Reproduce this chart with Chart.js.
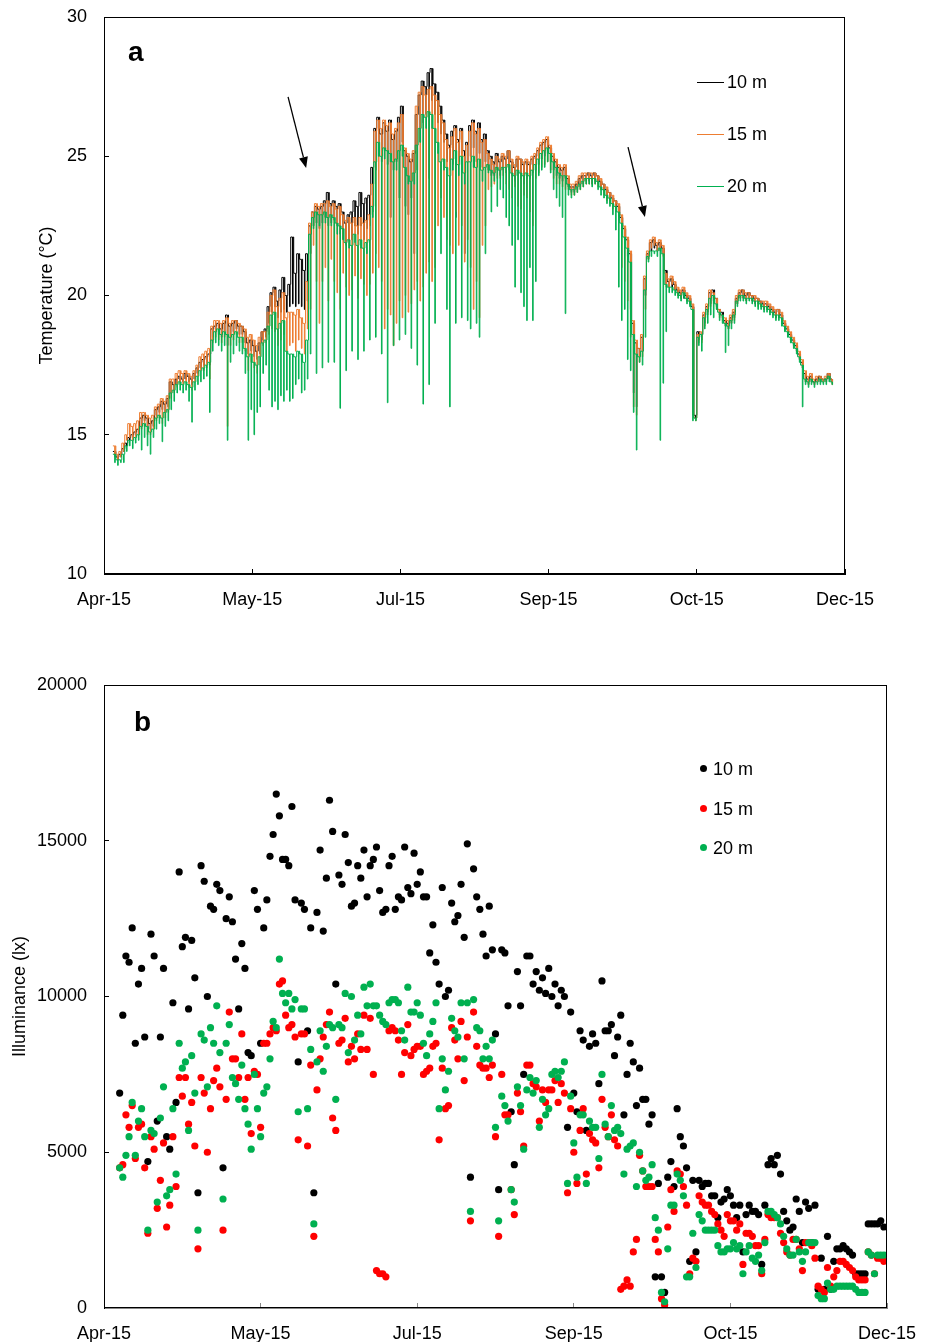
<!DOCTYPE html>
<html>
<head>
<meta charset="utf-8">
<script src="https://cdn.jsdelivr.net/npm/chart.js@4.4.1/dist/chart.umd.min.js"></script>
<style>
  body { margin: 0; background: #fff; }
  #wrap { position: relative; width: 932px; height: 1342px; background: #fff; font-family: "Liberation Sans", Arial, sans-serif; color: #000; }
  canvas { position: absolute; left: 0; }
  .tag { position: absolute; font-weight: bold; font-size: 28px; line-height: 28px; }
  .leg { position: absolute; font-size: 18px; line-height: 20px; white-space: nowrap; }
  .sw { position: absolute; height: 1px; width: 27px; }
  .dot { position: absolute; width: 7px; height: 7px; border-radius: 50%; }
</style>
</head>
<body>
<div id="wrap">
  <canvas id="chartA" width="932" height="625" style="top:0"></canvas>
  <canvas id="chartB" width="932" height="702" style="top:640px"></canvas>

  <div class="tag" style="left:128px;top:38px">a</div>
  <div class="tag" style="left:134px;top:708px">b</div>

  <div class="sw" style="left:697px;top:82px;background:#000"></div>
  <div class="leg" style="left:727px;top:72px">10 m</div>
  <div class="sw" style="left:697px;top:134px;background:#ed7d31"></div>
  <div class="leg" style="left:727px;top:124px">15 m</div>
  <div class="sw" style="left:697px;top:186px;background:#00b050"></div>
  <div class="leg" style="left:727px;top:176px">20 m</div>

  <div class="dot" style="left:700px;top:765px;background:#000"></div>
  <div class="leg" style="left:713px;top:759px">10 m</div>
  <div class="dot" style="left:700px;top:805px;background:#ff0000"></div>
  <div class="leg" style="left:713px;top:799px">15 m</div>
  <div class="dot" style="left:700px;top:844px;background:#00b050"></div>
  <div class="leg" style="left:713px;top:838px">20 m</div>
</div>

<script>
// x axis: days from the axis start, labels every 50 days
const tickDays = [0, 50, 100, 150, 200, 250];
const monthLabels = ['Apr-15', 'May-15', 'Jul-15', 'Sep-15', 'Oct-15', 'Dec-15'];

// ---- panel a: daily top value and daily dip value, first day = 3 ----
const tempStartDay = 3;
const tempHi10 = [
  14.4, 14.2, 14.3, 14.5, 14.7, 14.9, 15.0, 15.1, 15.2, 15.6,
  15.7, 15.6, 15.4, 15.5, 15.9, 16.0, 16.2, 16.1, 16.3, 16.9,
  16.8, 17.0, 17.1, 17.0, 17.2, 17.1, 17.0, 17.2, 17.4, 17.6,
  17.7, 17.8, 17.9, 18.8, 18.9, 19.0, 18.8, 19.0, 19.3, 18.9,
  19.0, 19.1, 18.9, 18.9, 18.7, 18.3, 18.4, 18.2, 18.0, 18.3,
  18.7, 18.8, 19.6, 20.1, 20.3, 19.8, 20.2, 20.65, 20.0, 20.4,
  22.1, 20.8, 21.5, 21.3, 20.9, 21.5, 22.5, 23.0, 23.2, 23.1,
  23.2, 23.4, 23.7, 23.3, 23.4, 23.2, 23.3, 23.0, 22.6, 22.9,
  23.0, 23.4, 23.2, 23.7, 23.3, 23.5, 23.6, 24.6, 26.0, 26.4,
  25.8, 26.2, 25.9, 26.3, 25.6, 25.9, 26.4, 26.8, 25.2, 25.0,
  24.8, 25.1, 26.5, 27.2, 27.7, 27.5, 28.0, 28.15, 27.6, 27.3,
  26.8, 26.3, 25.8, 25.4, 25.9, 26.1, 25.6, 26.0, 25.2, 25.5,
  26.1, 26.3, 25.9, 26.2, 25.6, 25.8, 25.2, 25.0, 24.8, 25.1,
  24.8, 25.0, 24.9, 25.2, 24.8, 24.6, 24.9, 24.9, 24.7, 24.8,
  24.7, 24.9, 25.0, 25.2, 25.4, 25.5, 25.6, 25.3, 25.0, 24.8,
  24.6, 24.5, 24.6, 24.2, 23.9, 23.9, 24.0, 24.2, 24.3, 24.3,
  24.4, 24.3, 24.4, 24.3, 24.1, 24.0, 23.8, 23.7, 23.5, 23.4,
  23.2, 22.8, 22.4, 22.0, 21.5, 19.0, 18.3, 18.1, 18.5, 20.6,
  21.5, 21.9, 22.0, 21.8, 21.9, 21.7, 20.9, 20.5, 20.6, 20.4,
  20.2, 20.1, 20.2, 20.0, 19.9, 19.6, 15.7, 18.7, 18.6, 19.3,
  19.6, 20.1, 20.2, 19.9, 19.5, 19.4, 19.1, 19.0, 19.2, 19.4,
  19.9, 20.1, 20.2, 20.0, 20.1, 20.0, 19.9, 19.9, 19.8, 19.7,
  19.7, 19.6, 19.5, 19.4, 19.5, 19.3, 19.0, 18.8, 18.6, 18.4,
  18.2, 17.9, 17.6, 17.2, 17.0, 17.1, 16.9, 17.0, 17.1, 17.0, 17.0, 17.2, 17.0
];
const tempLo10 = [
  14.3, 14.1, 14.2, 14.4, 14.6, 14.8, 14.9, 15.0, 15.0, 15.3,
  15.5, 15.3, 15.2, 15.3, 15.7, 15.8, 15.9, 15.8, 16.0, 16.5,
  16.6, 16.8, 16.9, 16.9, 17.0, 16.9, 16.8, 17.0, 17.2, 17.4,
  17.5, 17.6, 17.5, 18.5, 18.7, 18.6, 18.5, 18.7, 18.2, 18.5,
  18.7, 18.8, 18.6, 18.6, 18.3, 17.9, 18.0, 17.8, 17.7, 17.9,
  18.4, 18.5, 19.0, 19.4, 19.6, 19.2, 19.4, 19.5, 19.4, 19.6,
  19.7, 19.6, 19.7, 19.6, 19.5, 19.8, 21.5, 22.5, 22.6, 22.4,
  22.6, 22.8, 22.5, 22.6, 22.7, 22.5, 22.2, 22.0, 21.8, 22.0,
  22.0, 22.5, 22.2, 22.5, 22.0, 22.4, 22.5, 23.0, 24.5, 25.0,
  24.8, 25.2, 24.7, 22.8, 24.5, 24.8, 23.5, 25.5, 23.2, 22.9,
  23.5, 21.5, 24.5, 25.5, 26.2, 26.5, 24.2, 27.0, 26.5, 26.2,
  25.8, 25.5, 24.8, 24.5, 24.7, 22.8, 24.8, 25.1, 21.5, 24.8,
  25.0, 25.3, 24.8, 25.1, 24.6, 24.8, 24.5, 24.3, 24.3, 24.5,
  24.3, 24.5, 24.4, 24.5, 24.3, 24.1, 24.3, 24.2, 24.0, 24.2,
  24.2, 24.4, 24.5, 24.7, 24.9, 25.0, 25.1, 24.8, 24.5, 24.3,
  24.2, 24.1, 24.2, 23.9, 23.7, 23.7, 23.8, 23.9, 24.0, 24.1,
  24.1, 24.0, 24.1, 24.0, 23.8, 23.7, 23.5, 23.4, 23.2, 23.1,
  22.9, 22.4, 22.0, 21.4, 19.5, 16.5, 16.0, 17.8, 18.0, 20.0,
  21.3, 21.6, 21.7, 21.6, 21.6, 21.5, 20.4, 20.3, 20.3, 20.2,
  20.0, 19.9, 19.9, 19.8, 19.7, 15.8, 15.6, 18.4, 18.4, 19.0,
  19.4, 19.7, 19.8, 19.6, 19.3, 19.2, 18.9, 18.8, 19.0, 19.2,
  19.7, 19.9, 19.9, 19.8, 19.9, 19.8, 19.7, 19.7, 19.6, 19.5,
  19.5, 19.4, 19.3, 19.2, 19.2, 19.0, 18.8, 18.6, 18.4, 18.2,
  18.0, 17.7, 17.4, 16.9, 16.8, 16.9, 16.8, 16.9, 16.9, 16.9, 16.9, 17.0, 16.9
];
const tempHi15 = [
  14.6, 14.3, 14.4, 14.7, 15.0, 15.4, 15.3, 15.4, 15.5, 15.8,
  15.8, 15.7, 15.6, 15.7, 16.0, 16.1, 16.3, 16.2, 16.4, 17.0,
  17.0, 17.2, 17.3, 17.2, 17.3, 17.2, 17.1, 17.3, 17.5, 17.8,
  17.9, 18.0, 18.1, 18.9, 19.1, 19.1, 19.0, 19.1, 19.2, 19.0,
  19.1, 19.1, 19.0, 18.9, 18.8, 18.5, 18.6, 18.4, 18.2, 18.5,
  18.7, 18.7, 19.4, 20.0, 20.2, 19.6, 19.9, 20.1, 19.2, 19.4,
  19.4, 19.3, 19.5, 19.2, 19.0, 20.5, 22.6, 23.0, 23.3, 23.2,
  23.3, 23.3, 23.4, 23.2, 23.3, 23.1, 23.2, 22.9, 22.7, 22.8,
  22.6, 22.8, 22.5, 22.8, 22.6, 22.7, 22.9, 24.0, 25.9, 26.3,
  26.0, 26.3, 26.1, 26.2, 25.8, 26.0, 26.2, 26.5, 25.3, 25.1,
  24.9, 25.2, 26.8, 27.3, 27.5, 27.2, 27.4, 27.5, 27.2, 27.0,
  26.5, 26.2, 25.6, 25.3, 25.7, 26.0, 25.5, 25.9, 25.0, 25.4,
  25.9, 26.2, 25.8, 26.0, 25.5, 25.6, 25.1, 24.9, 24.7, 25.0,
  24.9, 25.1, 25.0, 25.2, 24.9, 24.7, 25.0, 24.9, 24.8, 24.9,
  24.8, 25.0, 25.1, 25.3, 25.5, 25.6, 25.7, 25.4, 25.1, 24.9,
  24.7, 24.6, 24.7, 24.3, 24.0, 24.0, 24.1, 24.3, 24.4, 24.4,
  24.4, 24.4, 24.4, 24.3, 24.2, 24.0, 23.9, 23.7, 23.6, 23.4,
  23.3, 22.9, 22.5, 22.1, 21.6, 19.1, 18.4, 18.1, 18.6, 20.7,
  21.6, 22.0, 22.1, 21.9, 22.0, 21.8, 20.8, 20.6, 20.7, 20.5,
  20.3, 20.2, 20.3, 20.1, 20.0, 19.7, 15.6, 18.6, 18.7, 19.4,
  19.7, 20.2, 20.1, 19.9, 19.5, 19.3, 19.2, 19.1, 19.3, 19.5,
  20.0, 20.2, 20.2, 20.1, 20.1, 20.0, 20.0, 19.9, 19.8, 19.8,
  19.8, 19.7, 19.6, 19.5, 19.5, 19.4, 19.1, 18.9, 18.7, 18.5,
  18.3, 18.0, 17.7, 17.3, 17.1, 17.2, 17.0, 17.1, 17.1, 17.0, 17.1, 17.2, 17.0
];
const tempLo15 = [
  14.2, 14.1, 14.2, 14.4, 14.8, 14.9, 14.8, 14.9, 15.0, 15.2,
  15.3, 15.0, 15.0, 15.2, 15.5, 15.6, 15.4, 15.6, 15.8, 16.3,
  16.5, 16.7, 16.8, 16.8, 16.9, 16.7, 16.6, 16.9, 17.1, 17.3,
  17.3, 17.4, 17.0, 18.3, 18.5, 18.4, 18.3, 18.5, 15.3, 18.2,
  18.4, 18.6, 18.3, 18.3, 18.0, 17.3, 17.6, 17.4, 17.2, 17.5,
  18.2, 18.3, 18.6, 18.8, 18.7, 18.2, 18.4, 18.6, 18.0, 18.2,
  18.3, 18.0, 18.4, 18.1, 17.9, 18.8, 19.5, 21.8, 20.5, 19.0,
  20.5, 21.0, 19.8, 21.3, 20.5, 20.1, 19.5, 20.8, 20.3, 20.0,
  20.2, 20.7, 19.9, 20.6, 20.4, 20.0, 20.4, 20.8, 21.5, 21.0,
  20.5, 18.8, 19.5, 19.3, 18.2, 19.0, 19.8, 19.2, 20.0, 19.4,
  19.7, 20.2, 20.5, 19.8, 20.3, 20.8, 21.2, 20.5, 21.0, 22.5,
  23.5, 22.8, 22.0, 21.8, 21.5, 23.0, 21.8, 22.5, 21.2, 22.0,
  21.0, 19.5, 20.5, 19.2, 21.8, 22.5, 23.8, 23.9, 24.0, 24.2,
  24.2, 24.3, 24.0, 23.8, 23.5, 23.9, 23.2, 23.1, 23.6, 23.5,
  23.0, 22.5, 24.2, 24.4, 24.6, 24.7, 24.8, 24.5, 24.2, 24.0,
  24.0, 23.9, 23.8, 23.8, 23.6, 23.6, 23.7, 23.8, 23.9, 24.0,
  24.0, 24.0, 24.0, 23.9, 23.8, 23.6, 23.4, 23.3, 23.1, 23.0,
  22.7, 21.0, 20.5, 19.8, 18.5, 16.0, 15.7, 17.6, 17.8, 19.5,
  21.3, 21.7, 21.8, 21.6, 21.7, 21.4, 20.3, 20.3, 20.4, 20.2,
  20.0, 19.9, 20.0, 19.8, 19.7, 15.7, 15.5, 18.3, 18.3, 18.9,
  19.3, 19.6, 19.7, 19.5, 19.2, 19.1, 18.9, 18.8, 19.0, 19.1,
  19.7, 19.9, 19.9, 19.8, 19.9, 19.8, 19.7, 19.6, 19.6, 19.5,
  19.5, 19.4, 19.3, 19.2, 19.2, 19.0, 18.8, 18.6, 18.4, 18.2,
  18.0, 17.7, 17.4, 16.9, 16.8, 16.9, 16.8, 16.9, 16.9, 16.9, 16.9, 17.0, 16.8
];
const tempHi20 = [
  14.3, 14.1, 14.1, 14.3, 14.6, 14.8, 14.8, 14.9, 15.0, 15.3,
  15.4, 15.3, 15.1, 15.2, 15.6, 15.7, 15.6, 15.8, 15.9, 16.5,
  16.6, 16.8, 16.9, 16.8, 16.9, 16.8, 16.7, 16.9, 17.1, 17.3,
  17.4, 17.5, 17.6, 18.4, 18.7, 18.8, 18.6, 18.7, 18.6, 18.5,
  18.6, 18.7, 18.5, 18.5, 18.1, 17.8, 17.9, 17.6, 17.5, 17.8,
  18.3, 18.4, 18.9, 19.3, 19.4, 18.8, 19.0, 19.1, 18.0, 17.9,
  17.9, 17.8, 18.0, 17.9, 17.6, 18.4, 22.2, 22.8, 23.0, 22.9,
  22.9, 23.0, 22.8, 22.9, 22.8, 22.6, 22.5, 22.4, 21.9, 22.0,
  21.8, 22.2, 21.8, 22.0, 21.7, 21.9, 22.0, 23.2, 24.8, 25.5,
  25.0, 25.3, 25.2, 25.1, 24.8, 24.9, 25.2, 25.4, 24.6, 24.3,
  24.1, 24.4, 25.4, 26.0, 26.5, 26.4, 26.6, 26.5, 26.0, 25.5,
  24.8, 24.9, 24.6, 24.3, 24.9, 25.2, 24.7, 25.0, 24.4, 24.8,
  24.8, 25.0, 24.6, 24.9, 24.5, 24.6, 24.7, 24.5, 24.4, 24.6,
  24.5, 24.6, 24.6, 24.7, 24.4, 24.3, 24.5, 24.4, 24.3, 24.4,
  24.3, 24.5, 24.7, 24.9, 25.1, 25.2, 25.3, 25.1, 24.8, 24.6,
  24.4, 24.3, 24.3, 24.0, 23.8, 23.8, 23.9, 24.0, 24.1, 24.2,
  24.2, 24.2, 24.2, 24.1, 23.9, 23.8, 23.6, 23.5, 23.3, 23.2,
  23.0, 22.6, 22.1, 21.7, 21.2, 18.6, 17.9, 17.8, 18.0, 20.2,
  21.4, 21.6, 21.6, 21.6, 21.7, 21.5, 20.4, 20.3, 20.3, 20.2,
  20.1, 20.0, 20.1, 19.9, 19.8, 19.5, 15.6, 18.5, 18.6, 19.2,
  19.5, 19.9, 20.0, 19.7, 19.4, 19.3, 19.0, 18.9, 19.1, 19.3,
  19.8, 20.0, 20.0, 19.9, 19.9, 19.9, 19.8, 19.8, 19.7, 19.6,
  19.6, 19.5, 19.4, 19.3, 19.3, 19.2, 18.9, 18.7, 18.5, 18.3,
  18.1, 17.8, 17.5, 17.0, 16.9, 17.0, 16.9, 16.9, 17.0, 16.9, 17.0, 17.1, 16.9
];
const tempLo20 = [
  14.0, 13.9, 14.0, 14.0, 14.4, 14.6, 14.5, 14.7, 14.8, 14.45,
  14.9, 14.6, 14.3, 14.9, 15.2, 15.4, 14.75, 15.3, 15.5, 15.9,
  16.2, 16.5, 16.6, 16.5, 16.6, 16.2, 15.45, 16.6, 16.8, 16.9,
  17.0, 17.1, 15.8, 18.0, 18.3, 18.2, 18.0, 18.2, 14.8, 17.6,
  17.9, 18.2, 18.0, 17.9, 17.2, 14.8, 15.9, 15.0, 15.8, 16.0,
  17.2, 17.5, 16.6, 16.0, 16.2, 15.9, 16.4, 16.2, 16.6, 16.2,
  16.3, 16.8, 17.0, 16.5, 16.6, 17.0, 17.9, 22.4, 17.2, 22.5,
  17.4, 22.6, 17.6, 22.5, 17.6, 22.2, 15.95, 22.0, 17.3, 21.7,
  18.0, 21.9, 17.7, 21.7, 18.0, 21.5, 18.4, 22.8, 18.5, 25.0,
  17.9, 24.9, 16.15, 24.8, 18.2, 24.5, 18.4, 25.0, 18.6, 24.0,
  18.1, 24.0, 17.5, 25.5, 16.1, 26.0, 16.8, 26.0, 19.0, 25.1,
  21.5, 24.5, 19.5, 16.0, 24.5, 19.0, 24.3, 19.2, 24.0, 19.1,
  18.8, 24.6, 19.0, 18.5, 24.1, 21.5, 24.4, 23.0, 24.1, 23.2,
  23.8, 23.5, 22.8, 22.5, 21.8, 20.3, 22.0, 20.1, 19.6, 19.1,
  21.0, 19.1, 20.5, 24.3, 24.5, 24.6, 24.8, 24.4, 23.8, 23.5,
  23.2, 22.8, 19.35, 23.6, 23.5, 23.6, 23.7, 23.8, 23.9, 24.0,
  24.0, 23.9, 24.0, 23.8, 23.6, 23.5, 23.3, 23.2, 22.9, 22.35,
  20.3, 19.1, 19.5, 17.7, 17.3, 15.8, 14.45, 17.6, 17.5, 18.5,
  21.2, 21.4, 21.5, 21.4, 14.8, 16.85, 18.7, 20.1, 20.1, 20.0,
  19.9, 19.8, 19.9, 19.7, 19.6, 15.5, 15.5, 18.2, 18.0, 18.8,
  19.0, 19.3, 19.2, 19.5, 19.1, 19.0, 17.95, 18.2, 18.8, 19.0,
  19.6, 19.8, 19.8, 19.7, 19.8, 19.7, 19.6, 19.5, 19.5, 19.4,
  19.4, 19.3, 19.2, 19.1, 19.1, 18.9, 18.7, 18.5, 18.3, 18.1,
  17.9, 17.6, 16.0, 16.8, 16.7, 16.8, 16.7, 16.8, 16.8, 16.8, 16.8, 16.9, 16.8
];

// arrows in panel a, in data units [day, temp] -> [day, temp]
const arrowsA = [
  [[62.1, 27.13], [68.2, 24.58]],
  [[176.8, 25.33], [182.5, 22.82]]
];

// ---- panel b: one reading per day, first day = 5 ----
const luxStartDay = 5;
const lux10 = [
  6900, 9400, 11300, 11100, 12200, 8500, 10400, 10900, 8700, 4700, 12000, 11300, 6000, 8700, 10900, 5500, 5100, 9800, 6600, 14000,
  11600, 11900, 9600, 11800, 10600, 3700, 14200, 13700, 10000, 12900, 12800, 13600, 13400, 4500, 12500, 13200, 12400, 11200, 9600, 11700,
  10900, 8200, 8100, 13400, 12800, 8500, 12200, 13100, 14500, 15200, 16500, 15800, 14400, 14400, 14200, 16100, 13100, 7900,
  13000, 12800, 8900, 12200, 3700, 12700, 14700, 12100, 13800, 16300, 15300, 10400, 13900, 13600, 15200, 14300, 12900, 13000, 14200, 13800,
  14700, 13200, 14200, 14400, 14800, 13400, 12700, 12800, 14200, 14500, 12800, 13200, 13100, 14800, 13500, 13300, 14600, 13600, 14000, 13200,
  13200, 11400, 12300, 11100, 10400, 13500, 10000, 10200, 13000, 12400, 12600, 13600, 11900, 14900, 4200, 14100, 13200, 12800, 12000, 11300,
  12900, 11500,
  8800, 3800, 11500, 11400, 9700, 6300, 4600, 10800, 9700, 7500, 11300, 11300, 10400, 10800, 10200, 10600, 10100, 10900, 10000, 10400,
  9700, 10200, 10000, 5800, 9500, 6900, 6300, 8900, 8600, 5700, 8400, 8800, 8500, 7200, 10500, 8900, 8900, 9100, 8100, 8700,
  9400, 6200, 7500, 8500, 7900, 6500, 7700, 6700, 6700, 5900, 6200, 1000, 4000, 1000, 500, 4200, 4700, 3900, 6400, 5500,
  5200, 4500,
  1500, 4100, 1800, 4100, 3900, 4000, 4000, 3600, 3600, 2900, 3400, 3500, 3800, 3600, 3300, 2900, 3300, 1800, 3000, 3300,
  3100, 3100, 3000, 1400, 3300, 4600, 4800, 4600, 4900, 4300, 3100, 2800, 2500, 2600, 3500, 3100, 2100, 3400, 3200, 2100,
  3300, 600, 1600, 600, 2300, 600, 1500, 1900, 1900, 2000, 1900, 1800, 1700, 1100, 1100, 1100, 1100, 2700, 2700, 2700,
  2700, 2800, 2600
];
const lux15 = [
  4500, 4600, 6200, 5800, 6500, 4800, 5800, 5900, 4500, 2400, 5500, 5100, 3200, 4100, 5300, 2600, 3300, 5500, 3900, 7400,
  6800, 7400, 5900, 6600, 5200, 1900, 7400, 6900, 5000, 6400, 7300, 7700, 7100, 2500, 6700, 9500, 8000, 8000, 7400, 8800,
  6700, 7400, 5600, 7600, 7500, 5800, 8500, 8500, 8800, 9000, 8900, 10400, 10500, 9400, 9000, 9100, 8700, 5400,
  8800, 8800, 5200, 7800, 2300, 7000, 8000, 8700, 9100, 9500, 6100, 5700, 8500, 8600, 9300, 7900, 8400, 8000, 8800, 8300,
  9400, 8300, 9300, 7500, 1200, 1100, 1100, 1000, 8900, 9000, 8900, 8600, 7500, 8200, 9100, 8100, 8300, 8400, 8400, 7500,
  7600, 7700, 8400, 8500, 5400, 7700, 6400, 6500, 9000, 8600, 8000, 9200, 7300, 8700, 2800, 9500, 8400, 7800, 7700, 7700,
  7400, 7800,
  5500, 2300, 7500, 6200, 6200, 3800, 3000, 6900, 6300, 5200, 7800, 7800, 7200, 7100, 6000, 7000, 6600, 7000, 7000, 7300,
  6600, 7200, 6900, 3700, 6400, 5000, 4000, 5700, 6400, 4300, 5600, 5400, 5300, 4500, 6700, 5800, 5500, 6200, 5400, 5200,
  600, 700, 900, 700, 1800, 2200, 4900, 4400, 3900, 3900, 3900, 2200, 1800, 300, 100, 2600, 3800, 3100, 4400, 4300,
  3900, 3300,
  1100, 1600, 1500, 3600, 3400, 3300, 3300, 3100, 3000, 2700, 2500, 2300, 3000, 2800, 2800, 2500, 2700, 1400, 2400, 2400,
  2300, 2000, 2000, 1100, 2200, 3000, 2900, 2900, 2900, 2400, 2100, 1800, 1700, 2200, 2200, 1900, 1200, 2100, 2100, 2000,
  1600, 700, 600, 500, 1300, 700, 1000, 1200, 1500, 1500, 1400, 1300, 1200, 1000, 900, 900, 900, 1800, 1700, 1100,
  1600, 1600, 1500
];
const lux20 = [
  4500, 4200, 4900, 5500, 6600, 4900, 6000, 6400, 5500, 2500, 5700, 5600, 3400, 6100, 7100, 3600, 3800, 6400, 4300, 8500,
  7700, 7900, 5700, 8100, 6900, 2500, 8800, 8600, 7100, 9000, 8500, 9700, 8200, 3500, 8500, 9100, 7400, 7200, 6700, 7800,
  6400, 5900, 5100, 7500, 6400, 5500, 6900, 7100, 8000, 9200, 9000, 11200, 10100, 9800, 10100, 9600, 9900, 6300,
  9600, 9600, 6400, 8300, 2700, 7900, 8900, 7600, 8400, 9100, 9000, 6700, 9100, 9000, 10100, 8200, 10000, 8600, 9400, 8800,
  10300, 9700, 10400, 9700, 9700, 9400, 9200, 9100, 9800, 9900, 9900, 9800, 8900, 8600, 10300, 9500, 9500, 9800, 9400, 8500,
  8100, 8800, 9200, 9800, 6400, 8000, 7000, 7600, 9300, 8900, 8700, 9800, 8000, 9800, 3100, 9900, 9000, 8900, 8000, 8400,
  8000, 8600,
  5800, 2800, 6800, 6500, 6000, 3800, 3400, 7100, 6500, 5100, 7000, 7400, 6900, 7300, 5800, 6700, 6200, 6400, 7500, 7600,
  7400, 7600, 7900, 4000, 6800, 5300, 4200, 6200, 6200, 4000, 6000, 5800, 5800, 4800, 7500, 5900, 5500, 6500, 5700, 5800,
  5600, 4300, 5100, 5200, 5300, 3900, 5000, 4400, 4100, 4200, 4600, 2900, 2500, 500, 200, 1900, 3300, 3300, 4300, 4100,
  3600, 1000,
  1000, 2400, 1300, 3000, 2800, 2500, 2500, 2500, 2500, 2000, 1800, 1800, 1900, 1900, 2100, 1900, 2000, 1100, 1800, 2000,
  1600, 1500, 1700, 1200, 2100, 3100, 3100, 3000, 2900, 2700, 2300, 1900, 1700, 1700, 2200, 1800, 1500, 1800, 2100, 2100,
  2100, 400, 300, 300, 800, 600, 600, 700, 700, 700, 700, 700, 700, 600, 500, 500, 500, 1800, 1700, 1100,
  1700, 1700, 1700
];

// each day: top value, a short dip, then back to the top
function stepSeries(hi, lo) {
  const pts = [];
  hi.forEach((v, i) => {
    const d = tempStartDay + i;
    pts.push({ x: d, y: v });
    pts.push({ x: d + 0.6, y: lo[i] });
    pts.push({ x: d + 0.8, y: v });
  });
  return pts;
}

function dailyPoints(vals) {
  return vals.map((v, i) => ({ x: luxStartDay + i, y: v }));
}

const FONT = { family: '"Liberation Sans", Arial, sans-serif', size: 18 };

// box around the plot area
const frame = {
  id: 'frame',
  afterDraw(chart, args, opts) {
    const { ctx, chartArea: a } = chart;
    ctx.save();
    ctx.strokeStyle = opts.color || '#000';
    ctx.lineWidth = 1;
    ctx.strokeRect(Math.round(a.left) + 0.5, Math.round(a.top) + 0.5, Math.round(a.right - a.left) - 1, Math.round(a.bottom - a.top) - 1);
    ctx.restore();
  }
};

const arrows = {
  id: 'arrows',
  afterDatasetsDraw(chart, args, opts) {
    if (!opts.list) return;
    const { ctx, scales: { x, y } } = chart;
    ctx.save();
    ctx.strokeStyle = '#000';
    ctx.fillStyle = '#000';
    ctx.lineWidth = 1.3;
    opts.list.forEach(([p0, p1]) => {
      const x0 = x.getPixelForValue(p0[0]), y0 = y.getPixelForValue(p0[1]);
      const x1 = x.getPixelForValue(p1[0]), y1 = y.getPixelForValue(p1[1]);
      const ang = Math.atan2(y1 - y0, x1 - x0);
      const len = 11, w = 4.5;
      const bx = x1 - len * Math.cos(ang), by = y1 - len * Math.sin(ang);
      ctx.beginPath();
      ctx.moveTo(x0, y0);
      ctx.lineTo(bx, by);
      ctx.stroke();
      ctx.beginPath();
      ctx.moveTo(x1, y1);
      ctx.lineTo(bx + w * Math.sin(ang), by - w * Math.cos(ang));
      ctx.lineTo(bx - w * Math.sin(ang), by + w * Math.cos(ang));
      ctx.closePath();
      ctx.fill();
    });
    ctx.restore();
  }
};

function xAxis(height, borderColor, pad) {
  return {
    type: 'linear',
    min: 0,
    max: 250,
    afterBuildTicks: axis => { axis.ticks = tickDays.map(v => ({ value: v })); },
    afterFit: axis => {
      axis.height = height;
      axis.paddingLeft = 0;
      axis.paddingRight = 0;
    },
    ticks: {
      autoSkip: false,
      maxRotation: 0,
      padding: pad,
      color: '#000',
      font: FONT,
      callback: (v, i) => monthLabels[i]
    },
    grid: { drawOnChartArea: false, tickLength: -5, color: borderColor },
    border: { color: borderColor, width: 1 }
  };
}

function yAxis(min, max, step, title, titlePad, borderColor) {
  return {
    min: min,
    max: max,
    afterFit: axis => {
      axis.width = 104;
      axis.paddingTop = 0;
      axis.paddingBottom = 0;
    },
    ticks: {
      stepSize: step,
      padding: 22,
      color: '#000',
      font: FONT,
      callback: v => String(v)
    },
    grid: { drawOnChartArea: false, tickLength: -5, color: borderColor },
    border: { color: borderColor, width: 1 },
    title: {
      display: true,
      text: title,
      color: '#000',
      font: FONT,
      padding: { top: titlePad, bottom: 0 }
    }
  };
}

new Chart(document.getElementById('chartA'), {
  type: 'line',
  data: {
    datasets: [
      { label: '10 m', data: stepSeries(tempHi10, tempLo10), borderColor: '#000000', order: 3 },
      { label: '15 m', data: stepSeries(tempHi15, tempLo15), borderColor: '#ed7d31', order: 2 },
      { label: '20 m', data: stepSeries(tempHi20, tempLo20), borderColor: '#00b050', order: 1 }
    ]
  },
  options: {
    responsive: false,
    animation: false,
    devicePixelRatio: 1,
    layout: { padding: { top: 17, right: 87, left: 0, bottom: 0 } },
    elements: {
      line: { borderWidth: 1, stepped: true, tension: 0 },
      point: { radius: 0 }
    },
    scales: {
      x: xAxis(51, '#000', 20),
      y: yAxis(10, 30, 5, 'Temperature (°C)', 36, '#000')
    },
    plugins: {
      legend: { display: false },
      tooltip: { enabled: false },
      frame: { color: '#000' },
      arrows: { list: arrowsA }
    }
  },
  plugins: [frame, arrows]
});

new Chart(document.getElementById('chartB'), {
  type: 'scatter',
  data: {
    datasets: [
      { label: '10 m', data: dailyPoints(lux10), backgroundColor: '#000000', order: 3 },
      { label: '15 m', data: dailyPoints(lux15), backgroundColor: '#ff0000', order: 2 },
      { label: '20 m', data: dailyPoints(lux20), backgroundColor: '#00b050', order: 1 }
    ]
  },
  options: {
    responsive: false,
    animation: false,
    devicePixelRatio: 1,
    layout: { padding: { top: 45, right: 45, left: 0, bottom: 0 } },
    elements: {
      point: { radius: 3.6, borderWidth: 0, hoverRadius: 3.6 }
    },
    scales: {
      x: xAxis(34, '#888', 20),
      y: yAxis(0, 20000, 5000, 'Illuminance (lx)', 9, '#000')
    },
    plugins: {
      legend: { display: false },
      tooltip: { enabled: false },
      frame: { color: '#000' }
    }
  },
  plugins: [frame]
});
</script>
</body>
</html>
